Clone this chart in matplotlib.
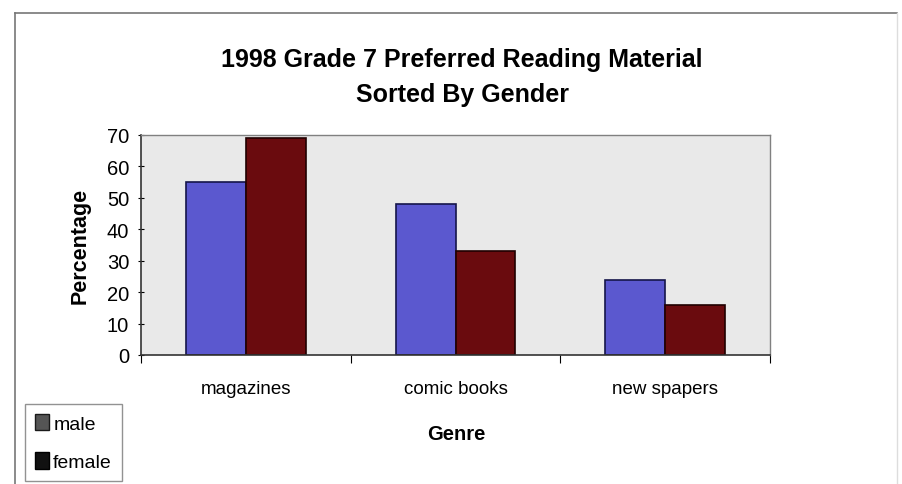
import numpy as np
import matplotlib.pyplot as plt
from matplotlib.patches import Patch

genres = ["magazines", "comic books", "new spapers"]
male = [55, 48, 24]
female = [69, 33, 16]
yticks = [0, 10, 20, 30, 40, 50, 60, 70]

plt.rcParams['font.family'] = ['Liberation Sans', 'DejaVu Sans']

fig = plt.figure(figsize=(9.02, 4.85), dpi=100)
fig.patch.set_facecolor('white')

# plot area in pixel terms: x 141..770, y 136..356 (from top)
W, H = 902, 485
ax = fig.add_axes([141 / W, 1 - 356 / H, (770 - 141) / W, (356 - 136) / H])
ax.set_facecolor('#e9e9e9')

x = np.arange(len(genres))
bw = 0.286
ax.bar(x - bw / 2, male, bw, color='#5b58cf', edgecolor='#15154a', linewidth=1.2, label='male')
ax.bar(x + bw / 2, female, bw, color='#6a0b0e', edgecolor='#200000', linewidth=1.2, label='female')

ax.set_xlim(-0.5, 2.5)
ax.set_ylim(0, 70)
ax.set_yticks(yticks)
ax.tick_params(axis='y', labelsize=14.5, length=5, direction='inout', pad=6)
ax.set_xticks([-0.5, 0.5, 1.5, 2.5])
ax.set_xticklabels([])
ax.set_xticks(x, minor=True)
ax.set_xticklabels(genres, minor=True, fontsize=13.5)
ax.tick_params(axis='x', which='major', length=6, direction='out')
ax.tick_params(axis='x', which='minor', length=0, pad=18)

for side in ['top', 'right']:
    ax.spines[side].set_color('#808080')
    ax.spines[side].set_linewidth(1.0)
for side in ['left', 'bottom']:
    ax.spines[side].set_color('#333333')
    ax.spines[side].set_linewidth(1.2)

ax.set_ylabel("Percentage", fontsize=15.5, fontweight='bold', labelpad=12)

fig.text(462 / W, 1 - 60 / H, "1998 Grade 7 Preferred Reading Material",
         ha='center', va='center', fontsize=18, fontweight='bold')
fig.text(462 / W, 1 - 95 / H, "Sorted By Gender",
         ha='center', va='center', fontsize=18, fontweight='bold')
fig.text(456 / W, 1 - 435 / H, "Genre", ha='center', va='center',
         fontsize=14.5, fontweight='bold')

# outer chart border
fig.add_artist(plt.Line2D([15 / W, 897 / W], [1 - 14 / H, 1 - 14 / H],
                          transform=fig.transFigure, color='#777777', lw=1.2))
fig.add_artist(plt.Line2D([15 / W, 15 / W], [1 - 14 / H, 0],
                          transform=fig.transFigure, color='#777777', lw=1.2))
fig.add_artist(plt.Line2D([897 / W, 897 / W], [1 - 14 / H, 0],
                          transform=fig.transFigure, color='#dddddd', lw=1.0))

# legend box in lower-left corner
handles = [Patch(facecolor='#555555', edgecolor='#1a1a1a', label='male'),
           Patch(facecolor='#111111', edgecolor='#000000', label='female')]
leg = fig.legend(handles=handles, loc='lower left',
                 bbox_to_anchor=(25 / W, 3 / H), frameon=True, fancybox=False,
                 fontsize=14, handlelength=0.75, handleheight=0.95, handletextpad=0.2,
                 labelspacing=1.0, borderpad=0.5, borderaxespad=0)
leg.get_frame().set_edgecolor('#777777')
leg.get_frame().set_linewidth(1.0)

fig.savefig("out.png", dpi=100)
